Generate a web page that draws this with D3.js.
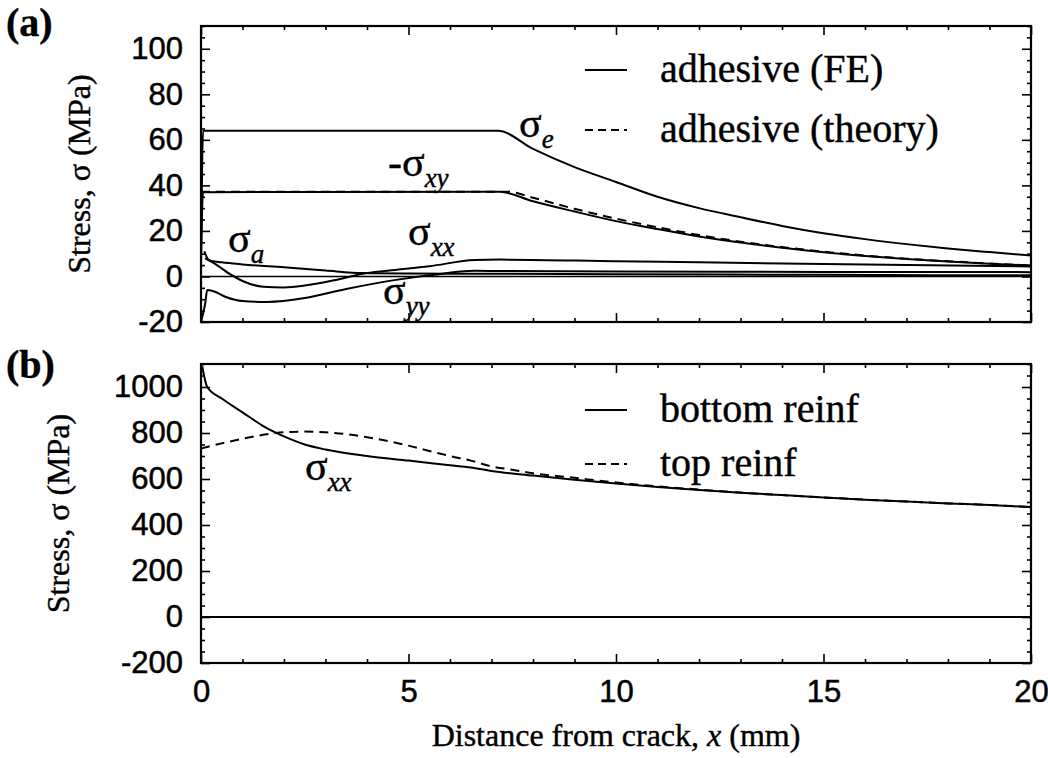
<!DOCTYPE html>
<html>
<head>
<meta charset="utf-8">
<script src="https://cdn.jsdelivr.net/npm/d3@7"></script>
<style>
  body { margin: 0; background: #fff; }
  svg { display: block; }
  .tick text { font-family: "Liberation Sans", Arial, sans-serif; font-size: 31px; fill: #000; stroke: #000; stroke-width: 0.5px; }
  .tick line { stroke: #000; stroke-width: 1.6; }
  .serif { font-family: "Liberation Serif", "Times New Roman", serif; fill: #000; stroke: #000; stroke-width: 0.4px; }
</style>
</head>
<body>
<svg id="chart" width="1048" height="758"></svg>
<script>
// values: [x (mm), stress (MPa)]
// panel (a) - adhesive
const sigmaE = [[0,2],[0.05,64],[7.15,64],[8,56],[9,48],[10,41.5],[11,35],[12,30],[13,26],[14,22.2],[15,19],[16,16.4],[17,14.2],[18,12.3],[19,10.7],[20,9.2]];
const sigmaXYneg = [[0,8],[0.05,37],[7.2,37.2],[8,33],[9,28.5],[10,24.3],[11,20.8],[12,17.6],[13,14.9],[14,12.6],[15,10.6],[16,9],[17,7.7],[18,6.6],[19,5.6],[20,4.8]];
const sigmaXYtheory = [[0,37.2],[7.4,37.2],[8,34.6],[9,29.7],[10,25.4],[11,21.6],[12,18.2],[13,15.3],[14,12.9],[15,10.9],[16,9.2],[17,7.8],[18,6.7],[19,5.7],[20,4.8]];
const sigmaXX = [[0.1,8],[0.3,6],[0.7,1],[1,-2],[1.5,-4.5],[2,-4.8],[2.5,-4],[3.2,-1.7],[3.9,1.2],[4.5,2.5],[5.5,4.5],[6.6,7.2],[7.2,7.4],[10,6.7],[12,6.2],[15,5.5],[20,4.4]];
const sigmaA = [[0.08,11],[0.2,7],[0.5,6.2],[1,5.3],[2,4],[3,2.6],[3.9,1.5],[5,1.3],[7,1.2],[10,1],[15,0.7],[20,0.5]];
const sigmaYY = [[0,-20],[0.1,-12],[0.15,-6],[0.3,-6.5],[0.6,-9],[1,-10.8],[1.6,-11.2],[2.5,-9.5],[3.5,-5.5],[4.7,-1.5],[5.5,0.5],[6.6,2.5],[7.2,2.4],[10,2.2],[15,2],[20,1.9]];
const zeroLine = [[0,0],[20,0]];

// panel (b) - reinforcement
const bottomReinf = [[0.03,1090],[0.15,1000],[0.5,950],[1,890],[1.5,830],[2,785],[2.5,750],[3,728],[4,700],[5,680],[6,660],[6.5,650],[7,635],[8,615],[9,597],[10,580],[11,565],[12,552],[13,540],[14,530],[15,520],[16,510],[17,502],[18,494],[19,487],[20,478]];
const topReinf = [[0,733],[0.5,755],[1,775],[1.5,792],[2,803],[2.5,806],[3,803],[3.5,795],[4,782],[4.5,765],[5,745],[5.5,722],[6,700],[6.5,680],[7,655],[7.5,640],[8,625],[9,605],[10,585],[11,568],[12,554],[13,541],[14,530],[15,520],[16,510],[17,502],[18,494],[19,487],[20,478]];

const xMajor = [0, 5, 10, 15, 20];
const yMajorA = [-20, 0, 20, 40, 60, 80, 100];
const yMajorB = [-200, 0, 200, 400, 600, 800, 1000];

const svg = d3.select("#chart");
const plain = d => String(d);   // keep ASCII hyphen for negatives, no thousands comma

const x = d3.scaleLinear().domain([0, 20]).range([201, 1031]);

function drawPanel(cfg) {
  const y = d3.scaleLinear().domain(cfg.domain).range([cfg.bottom, cfg.top]);
  const g = svg.append("g");

  const clipId = "clip-" + cfg.name;
  svg.append("clipPath").attr("id", clipId)
    .append("rect")
    .attr("x", x(0)).attr("y", cfg.top)
    .attr("width", x(20) - x(0)).attr("height", cfg.bottom - cfg.top);

  const minorX = d3.range(0, 21, 1).filter(d => d % 5 !== 0);
  const minorY = d3.range(cfg.domain[0], cfg.domain[1] + 1, cfg.minorStep)
    .filter(d => cfg.major.indexOf(d) < 0);

  // inward ticks on all four sides
  const axes = [
    [d3.axisBottom(x).tickValues(xMajor).tickSize(-9).tickPadding(17)
      .tickFormat(cfg.xLabels ? plain : ""), `translate(0,${cfg.bottom})`],
    [d3.axisBottom(x).tickValues(minorX).tickSize(-4).tickFormat(""), `translate(0,${cfg.bottom})`],
    [d3.axisTop(x).tickValues(xMajor).tickSize(-9).tickFormat(""), `translate(0,${cfg.top})`],
    [d3.axisTop(x).tickValues(minorX).tickSize(-4).tickFormat(""), `translate(0,${cfg.top})`],
    [d3.axisLeft(y).tickValues(cfg.major).tickSize(-9).tickPadding(18).tickFormat(plain), `translate(${x(0)},0)`],
    [d3.axisLeft(y).tickValues(minorY).tickSize(-4).tickFormat(""), `translate(${x(0)},0)`],
    [d3.axisRight(y).tickValues(cfg.major).tickSize(-9).tickFormat(""), `translate(${x(20)},0)`],
    [d3.axisRight(y).tickValues(minorY).tickSize(-4).tickFormat(""), `translate(${x(20)},0)`]
  ];
  axes.forEach(([ax, tr]) => {
    const a = g.append("g").attr("transform", tr).call(ax);
    a.select(".domain").remove();
  });

  const line = d3.line().x(d => x(d[0])).y(d => y(d[1])).curve(d3.curveMonotoneX);
  const lines = g.append("g").attr("clip-path", `url(#${clipId})`);
  cfg.series.forEach(s => {
    lines.append("path")
      .datum(s.data)
      .attr("d", line)
      .attr("fill", "none")
      .attr("stroke", "#000")
      .attr("stroke-width", s.width || 2)
      .attr("stroke-dasharray", s.dashed ? "9,6" : null)
      .attr("stroke-linejoin", "round");
  });

  g.append("rect")
    .attr("x", x(0)).attr("y", cfg.top)
    .attr("width", x(20) - x(0)).attr("height", cfg.bottom - cfg.top)
    .attr("fill", "none").attr("stroke", "#000").attr("stroke-width", 2.2);

  // panel letter
  g.append("text").attr("class", "serif").attr("x", 6).attr("y", cfg.letterY)
    .style("font-weight", "bold").style("font-size", "40px")
    .text(cfg.letter);

  // y title
  g.append("text").attr("class", "serif")
    .attr("transform", `translate(${cfg.titleX},${(cfg.top + cfg.bottom) / 2}) rotate(-90)`)
    .attr("text-anchor", "middle")
    .style("font-size", "32px")
    .text("Stress, σ (MPa)");

  // legend
  cfg.legend.forEach((l, i) => {
    const ly = cfg.legendY + i * cfg.legendGap;
    g.append("line").attr("x1", 585).attr("x2", 627).attr("y1", ly - 12).attr("y2", ly - 12)
      .attr("stroke", "#000").attr("stroke-width", 2)
      .attr("stroke-dasharray", l.dashed ? "8,5" : null);
    g.append("text").attr("class", "serif").attr("x", 660).attr("y", ly)
      .style("font-size", "40px")
      .text(l.label);
  });

  // curve labels
  cfg.notes.forEach(n => {
    const t = g.append("text").attr("class", "serif").attr("x", n.x).attr("y", n.y)
      .style("font-size", "42px");
    t.append("tspan").text(n.main);
    t.append("tspan").attr("dy", 11)
      .style("font-style", "italic").style("font-size", "27px").text(n.sub);
  });

  return y;
}

drawPanel({
  name: "a", top: 26, bottom: 322, domain: [-20, 110], major: yMajorA, minorStep: 5,
  xLabels: false, letter: "(a)", letterY: 36, titleX: 90,
  series: [
    { data: zeroLine, width: 1.5 },
    { data: sigmaXYtheory, dashed: true },
    { data: sigmaE }, { data: sigmaXYneg }, { data: sigmaXX }, { data: sigmaA }, { data: sigmaYY }
  ],
  legendY: 82, legendGap: 60,
  legend: [{ label: "adhesive (FE)" }, { label: "adhesive (theory)", dashed: true }],
  notes: [
    { x: 519, y: 137, main: "σ", sub: "e" },
    { x: 388, y: 176, main: "-σ", sub: "xy" },
    { x: 228, y: 252, main: "σ", sub: "a" },
    { x: 408, y: 245, main: "σ", sub: "xx" },
    { x: 383, y: 304, main: "σ", sub: "yy" }
  ]
});

drawPanel({
  name: "b", top: 364, bottom: 663, domain: [-200, 1100], major: yMajorB, minorStep: 50,
  xLabels: true, letter: "(b)", letterY: 378, titleX: 69,
  series: [
    { data: zeroLine, width: 2 },
    { data: topReinf, dashed: true },
    { data: bottomReinf }
  ],
  legendY: 422, legendGap: 54,
  legend: [{ label: "bottom reinf" }, { label: "top reinf", dashed: true }],
  notes: [
    { x: 305, y: 480, main: "σ", sub: "xx" }
  ]
});

const xt = svg.append("text").attr("class", "serif")
  .attr("x", (x(0) + x(20)) / 2).attr("y", 746)
  .attr("text-anchor", "middle")
  .style("font-size", "32px");
xt.append("tspan").text("Distance from crack, ");
xt.append("tspan").style("font-style", "italic").text("x");
xt.append("tspan").text(" (mm)");
</script>
</body>
</html>
